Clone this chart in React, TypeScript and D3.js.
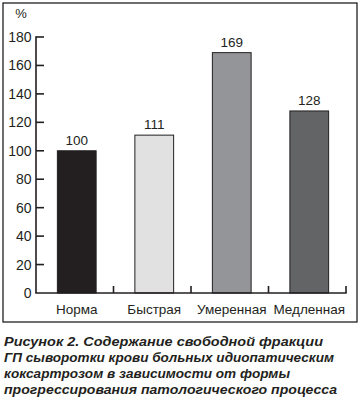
import React from "react";
import * as d3 from "d3";

const categories = ["Норма", "Быстрая", "Умеренная", "Медленная"];
const values = [100, 111, 169, 128];
const barColors = ["#231f20", "#e1e1e2", "#939598", "#636466"];
const yTicks = [0, 20, 40, 60, 80, 100, 120, 140, 160, 180];
const captionLines = [
  "Рисунок 2. Содержание свободной фракции",
  "ГП сыворотки крови больных идиопатическим",
  "коксартрозом в зависимости от формы",
  "прогрессирования патологического процесса",
];
const captionWidths = [319, 330, 286, 333];

export default function App() {
  const W = 360, H = 402;
  const axisX = 36, axisRight = 346;
  const y = d3.scaleLinear().domain([0, 180]).range([293, 37]);
  const x = d3.scaleBand<string>().domain(categories).range([axisX, axisRight]).paddingInner(0.5).paddingOuter(0.25);
  const step = x.step();
  const ink = "#231f20";
  const font = "'Liberation Sans', Arial, sans-serif";
  const bounds = categories.map((_, i) => axisX + step * (i + 1));
  const off = 2;
  return (
    <svg width={W} height={H} style={{ position: "absolute", left: 0, top: 0, background: "#fff" }}>
      <rect x={3} y={3} width={354} height={319} fill="none" stroke={ink} strokeWidth={1.3} />
      <text x={21} y={18} textAnchor="middle" fontFamily={font} fontSize={13} fill={ink}>%</text>
      {categories.map((c, i) => (
        <g key={c}>
          <rect x={(x(c) as number) + off} y={y(values[i])} width={x.bandwidth()} height={y(0) - y(values[i])}
            fill={barColors[i]} stroke={ink} strokeWidth={1} />
          <text x={(x(c) as number) + off + x.bandwidth() / 2} y={y(values[i]) - 6} textAnchor="middle"
            fontFamily={font} fontSize={13.5} fill={ink}>{values[i]}</text>
          <text x={(x(c) as number) + off + x.bandwidth() / 2} y={313.5} textAnchor="middle"
            fontFamily={font} fontSize={13.5} fill={ink}>{c}</text>
        </g>
      ))}
      <line x1={axisX} x2={axisX} y1={y(180) - 0.7} y2={y(0)} stroke={ink} strokeWidth={1.6} />
      <line x1={axisX - 0.8} x2={axisRight + 0.7} y1={y(0)} y2={y(0)} stroke={ink} strokeWidth={1.6} />
      {yTicks.map((t) => (
        <g key={t}>
          {t > 0 && <line x1={axisX} x2={axisX + 8} y1={y(t)} y2={y(t)} stroke={ink} strokeWidth={1.6} />}
          <text x={31.5} y={y(t) + 5} textAnchor="end" fontFamily={font} fontSize={14} fill={ink}>{t}</text>
        </g>
      ))}
      {bounds.map((b, i) => (
        <line key={i} x1={b} x2={b} y1={y(0)} y2={y(0) - 7} stroke={ink} strokeWidth={1.6} />
      ))}
      {captionLines.map((l, i) => (
        <text key={i} x={4} y={345.5 + i * 16} fontFamily={font} fontSize={13} fontWeight="bold"
          fontStyle="italic" fill={ink} textLength={captionWidths[i]} lengthAdjust="spacingAndGlyphs">{l}</text>
      ))}
    </svg>
  );
}
